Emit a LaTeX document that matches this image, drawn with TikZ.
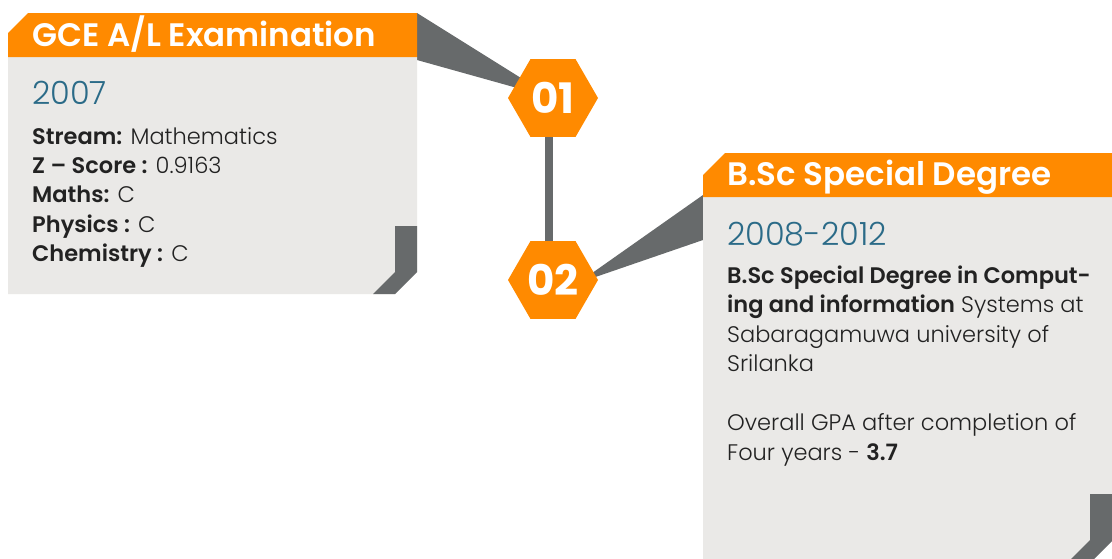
\documentclass[tikz,border=0pt]{standalone}
\usepackage{fontspec}
\setmainfont{Poppins}[UprightFont={* Light},BoldFont={* SemiBold}]
\newfontfamily\hexfont{Poppins Bold}
\usetikzlibrary{shapes.geometric}
\definecolor{orng}{HTML}{FF8A00}
\definecolor{boxgray}{HTML}{EAE9E7}
\definecolor{darkgr}{HTML}{676A6B}
\definecolor{yeartxt}{HTML}{2B6B88}
\definecolor{txt}{HTML}{222222}
\tikzset{
  hexa/.style={regular polygon, regular polygon sides=6, minimum size=90pt, inner sep=0pt,
    fill=orng, text=white, font=\hexfont\fontsize{42}{42}\selectfont},
  head/.style={anchor=base west, inner sep=0pt, text=white, font=\bfseries\fontsize{32.5}{32.5}\selectfont},
  yeartext/.style={anchor=base west, inner sep=0pt, text=yeartxt, font=\fontsize{32}{32}\selectfont},
  line/.style={anchor=base west, inner sep=0pt, text=txt, font=\fontsize{22.5}{22.5}\selectfont},
}
\begin{document}
\begin{tikzpicture}[x=1pt,y=-1pt]
\useasboundingbox (0,0) rectangle (1112,558);
\clip (0,0) rectangle (1112,558);
\fill[white] (0,0) rectangle (1112,558);
\coordinate (c1) at (553,98);
\coordinate (c2) at (553,280);
% connectors
\fill[darkgr] (417,13) -- (c1) -- (417,60) -- cycle;
\fill[darkgr] (703,195) -- ([xshift=25pt,yshift=-3pt]c2) -- (703,240) -- cycle;
\draw[darkgr, line width=8pt] ([xshift=-4pt]c1) -- ([xshift=-4pt]c2);
% left box
\fill[boxgray] (8,57) -- (417,57) -- (417,272) -- (395,294) -- (8,294) -- cycle;
\fill[orng] (8,33) -- (28,13) -- (417,13) -- (417,57) -- (8,57) -- cycle;
\fill[darkgr] (395,226) -- (417,226) -- (417,272) -- (395,294) -- (373,294) -- (395,272) -- cycle;
% right box
\fill[boxgray] (703,197) -- (1113,197) -- (1113,540) -- (1091,562) -- (703,562) -- cycle;
\fill[orng] (703,175) -- (725,153) -- (1113,153) -- (1113,197) -- (703,197) -- cycle;
\fill[darkgr] (1090,494) -- (1113,494) -- (1113,540) -- (1091,562) -- (1068,562) -- (1090,540) -- cycle;
% hexes
\node[hexa] (hex01) at (c1) {01};
\node[hexa] (hex02) at (c2) {02};
% left text
\node[head] (h1) at (32,46) {GCE A/L Examination};
\node[yeartext] (yr1) at (32,104) {2007};
\node[line] (l1) at (32,144) {\textbf{Stream:} Mathematics};
\node[line] (l2) at (32,173.4) {\textbf{Z – Score :} 0.9163};
\node[line] (l3) at (32,202.8) {\textbf{Maths:} C};
\node[line] (l4) at (32,232.2) {\textbf{Physics :} C};
\node[line] (l5) at (32,261.6) {\textbf{Chemistry :} C};
% right text
\node[head] (h2) at (727,185) {B.Sc Special Degree};
\node[yeartext] (yr2) at (727,245) {2008-2012};
\node[line] (r1) at (727,283) {\textbf{B.Sc Special Degree in Comput-}};
\node[line] (r2) at (727,312.5) {\textbf{ing and information} Systems at};
\node[line] (r3) at (727,342) {Sabaragamuwa university of};
\node[line] (r4) at (727,371.5) {Srilanka};
\node[line] (r5) at (727,430.5) {Overall GPA after completion of};
\node[line] (r6) at (727,460) {Four years - \textbf{3.7}};
\end{tikzpicture}
\end{document}
